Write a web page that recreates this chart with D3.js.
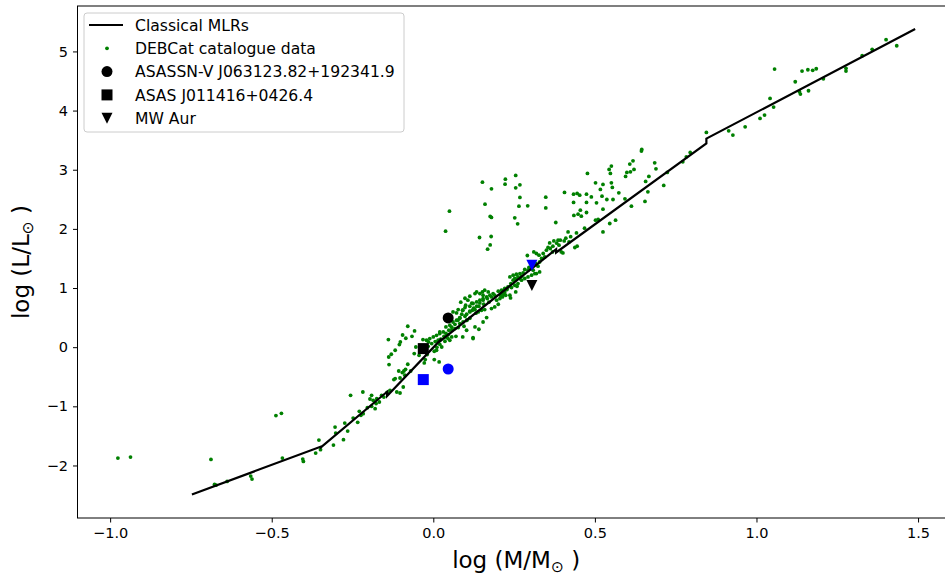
<!DOCTYPE html>
<html>
<head>
<meta charset="utf-8">
<script src="https://cdn.jsdelivr.net/npm/d3@7"></script>
<style>
  body { margin: 0; background: #fff; }
  svg { display: block; font-family: "DejaVu Sans", sans-serif; }
</style>
</head>
<body>
<div id="chart"></div>
<script>
// DEBCat catalogue stars (log M, log L)
const debcatLogM = [
  -0.976, -0.937, -0.688, -0.487, -0.470, -0.677, -0.672, -0.638, -0.565, -0.561,
  -0.467, -0.404, -0.402, -0.364, -0.354, -0.349, -0.309, -0.304, -0.302, -0.278,
  -0.274, -0.265, -0.248, -0.234, -0.229, -0.224, -0.217,
  -0.079, -0.095, -0.066, -0.058, -0.102, -0.105, -0.139, -0.085, -0.118, -0.130,
  -0.138, -0.137, -0.032, -0.015, -0.054, -0.059, -0.044, -0.019, -0.025, -0.028,
  -0.079, -0.091, -0.096, -0.107, -0.086, -0.070, -0.118, -0.122, -0.103, -0.088,
  -0.093, -0.113, -0.103, -0.218, -0.256, -0.191, -0.196, -0.186, -0.175, -0.160,
  -0.153, -0.167, -0.177, -0.191, -0.204, -0.180, -0.134, -0.143,
  0.003, 0.003, 0.018, 0.006, 0.020, 0.036, 0.011,
  0.038, 0.143, 0.179, 0.176, 0.168, 0.360, 0.373, 0.386, 0.389, 0.291,
  0.311, 0.319, 0.327, 0.340, 0.350, 0.355, 0.362, 0.369, 0.335, 0.345,
  0.329, 0.304, 0.317, 0.324, 0.296, 0.283, 0.293, 0.278, 0.268, 0.257,
  0.247, 0.237, 0.252, 0.262, 0.273, 0.319, 0.329, 0.259, 0.255, 0.240,
  0.231, 0.221, 0.211, 0.201, 0.237, 0.239, 0.219, 0.208, 0.185, 0.175,
  0.165, 0.154, 0.144, 0.134, 0.129, 0.152,
  0.098, 0.107, 0.113, 0.119, 0.100, 0.085, 0.125, 0.141, 0.156, 0.172,
  0.180, 0.190, 0.201, 0.113, 0.091, 0.077, 0.072, 0.061, 0.088, 0.132,
  0.154, 0.165, 0.129, 0.141, 0.123, 0.091, 0.070,
  0.076, 0.067, 0.057, 0.048, 0.039, 0.033, 0.045, 0.082, 0.098, 0.104,
  0.113, 0.095, 0.023,
  0.050, 0.152, 0.180, 0.223, 0.222, 0.255, 0.255, 0.160, 0.176, 0.180,
  0.265, 0.252, 0.261, 0.268, 0.268,
  0.292, 0.348, 0.348, 0.406, 0.379, 0.477, 0.645, 0.644, 0.434, 0.445,
  0.453, 0.474, 0.489, 0.434, 0.474, 0.505, 0.522, 0.502, 0.525, 0.517,
  0.551, 0.554, 0.537, 0.556, 0.574, 0.544, 0.551, 0.548, 0.608, 0.618,
  0.610, 0.599, 0.595, 0.621, 0.685, 0.689, 0.667, 0.657, 0.664, 0.593,
  0.613, 0.655, 0.455, 0.448, 0.435, 0.458, 0.474, 0.525, 0.502, 0.510,
  0.546, 0.564, 0.525, 0.443, 0.417, 0.445, 0.438, 0.393, 0.405, 0.420,
  0.396, 0.401,
  0.845, 0.795, 0.783, 0.772, 0.724, 0.713,
  0.914, 0.927, 0.965, 1.011, 1.025, 1.042, 1.053, 1.056, 1.120, 1.133,
  1.136, 1.161, 1.141, 1.159, 1.174, 1.185, 1.207, 1.277, 1.277, 1.327,
  1.358, 1.401, 1.434,
  0.098, 0.113, 0.123, 0.134, 0.144, 0.154, 0.167, 0.180, 0.190, 0.211,
  0.221, 0.228, 0.242, 0.252, 0.262, 0.273, 0.283, 0.293, 0.304, 0.314,
  0.134, 0.144, 0.154, 0.159, 0.170, 0.196, 0.206, 0.214, 0.224, 0.247,
  0.257, 0.268, 0.299, 0.309, 0.082, 0.091, 0.103, 0.113, 0.121, 0.129,
  0.139, 0.149, 0.159, 0.061, 0.072, 0.051, 0.039, 0.020, 0.010, 0.000,
  -0.021, -0.011, 0.020, 0.031, -0.005, 0.015, -0.016, 0.020, 0.036, 0.046,
  0.057, 0.067, 0.077, 0.057, 0.082, 0.092, 0.103, 0.010, 0.026, 0.051,
  0.123, 0.103, 0.370, 0.382, 0.410, 0.425, 0.468
];
const debcatLogL = [
  -1.875, -1.858, -1.897, -1.157, -1.118, -2.320, -2.332, -2.269, -2.179, -2.230,
  -1.875, -1.892, -1.931, -1.790, -1.570, -1.733, -1.655, -1.350, -1.452, -1.563,
  -1.283, -1.418, -1.198, -1.271, -1.085, -1.152, -1.124,
  0.354, 0.206, 0.184, 0.274, 0.088, 0.044, 0.129, 0.151, -0.052, -0.120,
  -0.166, -0.294, 0.129, 0.088, 0.003, -0.108, -0.137, -0.125, -0.210, -0.267,
  -0.289, -0.403, -0.430, -0.403, -0.374, -0.403, -0.531, -0.548, -0.521, -0.475,
  -0.673, -0.758, -0.775, -0.758, -0.814, -0.814, -0.876, -0.898, -0.870, -0.814,
  -0.843, -0.927, -0.954, -1.000, -1.022, -1.039, -0.729, -0.763,
  -0.069, -0.210, -0.250, 0.095, 0.049, 0.100, -0.002,
  1.961, 1.854, 1.871, 1.729, 1.656, 1.763, 1.797, 1.809, 1.724, 1.550,
  1.611, 1.584, 1.555, 1.584, 1.640, 1.685, 1.668, 1.611, 1.499, 1.526,
  1.442, 1.369, 1.415, 1.369, 1.347, 1.313, 1.301, 1.255, 1.245, 1.233,
  1.217, 1.188, 1.161, 1.188, 1.200, 1.245, 1.272, 1.030, 0.934, 1.076,
  1.019, 0.992, 0.963, 0.946, 0.878, 0.832, 0.895, 0.878, 0.907, 0.878,
  0.849, 0.822, 0.794, 0.765, 0.907, 0.934,
  0.827, 0.794, 0.861, 0.743, 0.709, 0.760, 0.658, 0.692, 0.726, 0.760,
  0.653, 0.680, 0.726, 0.607, 0.624, 0.636, 0.579, 0.596, 0.557, 0.574,
  0.426, 0.501, 0.342, 0.303, 0.162, 0.173, 0.184,
  0.455, 0.387, 0.337, 0.286, 0.235, 0.184, 0.151, 0.489, 0.523, 0.455,
  0.489, 0.354, 0.134,
  2.299, 2.790, 2.677, 2.841, 2.756, 2.904, 2.694, 2.418, 2.210, 2.193,
  2.384, 2.186, 2.085, 2.744, 2.531,
  2.389, 2.536, 2.355, 2.616, 2.108, 2.937, 3.343, 3.315, 2.587, 2.599,
  2.570, 2.587, 2.541, 2.447, 2.447, 2.440, 2.553, 2.778, 2.751, 2.667,
  2.778, 2.700, 2.497, 2.497, 2.609, 3.005, 3.061, 2.937, 3.095, 3.151,
  2.964, 2.954, 2.887, 3.005, 3.117, 3.015, 2.887, 2.802, 2.626, 2.508,
  2.384, 2.464, 2.316, 2.249, 2.227, 2.215, 2.277, 2.333, 2.147, 2.159,
  2.091, 2.147, 1.949, 1.932, 1.949, 1.707, 1.685, 1.809, 1.797, 1.780,
  1.611, 1.594,
  3.631, 3.293, 3.218, 3.134, 2.954, 2.734,
  3.658, 3.585, 3.726, 3.868, 3.924, 4.206, 4.059, 4.702, 4.487, 4.318,
  4.279, 4.335, 4.668, 4.690, 4.680, 4.707, 4.538, 4.714, 4.668, 4.927,
  5.035, 5.198, 5.096,
  0.670, 0.692, 0.738, 0.692, 0.748, 0.794, 0.822, 0.849, 0.878, 0.907,
  0.934, 0.975, 1.008, 1.047, 1.076, 1.132, 1.161, 1.188, 1.217, 1.245,
  0.934, 0.907, 0.878, 0.963, 0.934, 0.794, 0.822, 0.849, 0.878, 1.132,
  1.144, 1.161, 1.330, 1.301, 0.501, 0.624, 0.557, 0.596, 0.624, 0.636,
  0.596, 0.624, 0.636, 0.426, 0.455, 0.371, 0.342, 0.257, 0.201, 0.173,
  0.117, 0.146, 0.230, 0.257, 0.061, 0.117, 0.015, 0.117, 0.173, 0.213,
  0.286, 0.315, 0.332, 0.173, 0.399, 0.426, 0.455, -0.052, 0.003, 0.117,
  0.146, 0.286, 1.707, 1.758, 1.843, 1.868, 2.012
];

// classical mass-luminosity relations, vertices of the broken line
const mlrLogM = [-0.747, -0.347, -0.347, -0.143, -0.143, 0.021, 0.021, 0.380, 0.380, 0.845, 0.845, 1.491];
const mlrLogL = [-2.491, -1.679, -1.688, -0.754, -0.827, 0.115, 0.102, 1.656, 1.601, 3.446, 3.526, 5.378];

// the three systems (black: legend marker, blue: second component)
const starNames = ["ASASSN-V J063123.82+192341.9", "ASAS J011416+0426.4", "MW Aur"];
const starShapes = ["circle", "square", "triangle"];
const starLogM = [0.046, -0.031, 0.305];
const starLogL = [0.494, -0.024, 1.042];
const starLogLBlue = [-0.369, -0.548, 1.386];

const xTicks = [-1.0, -0.5, 0.0, 0.5, 1.0, 1.5];
const yTicks = [-2, -1, 0, 1, 2, 3, 4, 5];

const W = 945, H = 578;
const svg = d3.select("#chart").append("svg")
  .attr("width", W).attr("height", H);

const x = d3.scaleLinear().domain([-1.101, 1.614]).range([77.5, 954.9]);
const y = d3.scaleLinear().domain([-2.888, 5.768]).range([518, 6]);

const minus = s => s.replace("-", "\u2212");

// axes frame
svg.append("rect")
  .attr("x", x.range()[0]).attr("y", y.range()[1])
  .attr("width", x.range()[1] - x.range()[0])
  .attr("height", y.range()[0] - y.range()[1])
  .attr("fill", "none").attr("stroke", "#000").attr("stroke-width", 1);

const xAxis = svg.append("g")
  .attr("transform", `translate(0,${y.range()[0]})`)
  .call(d3.axisBottom(x).tickValues(xTicks).tickSize(4.5).tickPadding(5)
    .tickFormat(d => minus(d3.format(".1f")(d))));
const yAxis = svg.append("g")
  .attr("transform", `translate(${x.range()[0]},0)`)
  .call(d3.axisLeft(y).tickValues(yTicks).tickSize(4.5).tickPadding(5)
    .tickFormat(d => minus(String(d))));

[xAxis, yAxis].forEach(a => {
  a.select(".domain").remove();
  a.selectAll("text").attr("font-family", "DejaVu Sans").attr("font-size", 14.5).attr("fill", "#000");
  a.selectAll("line").attr("stroke", "#000");
});

// axis labels
const xl = svg.append("text")
  .attr("x", (x.range()[0] + x.range()[1]) / 2).attr("y", 568)
  .attr("text-anchor", "middle").attr("font-size", 23);
xl.append("tspan").text("log (M/M");
xl.append("tspan").attr("font-size", 15.5).attr("dy", 4).text("\u2299");
xl.append("tspan").attr("dy", -4).text(" )");

const yl = svg.append("text")
  .attr("transform", `translate(29,${(y.range()[0] + y.range()[1]) / 2}) rotate(-90)`)
  .attr("text-anchor", "middle").attr("font-size", 23);
yl.append("tspan").text("log (L/L");
yl.append("tspan").attr("font-size", 15.5).attr("dy", 4).text("\u2299");
yl.append("tspan").attr("dy", -4).text(" )");

const plot = svg.append("g");

// DEBCat dots
plot.append("g").selectAll("circle")
  .data(debcatLogM.map((m, i) => [m, debcatLogL[i]]))
  .join("circle")
  .attr("cx", d => x(d[0])).attr("cy", d => y(d[1]))
  .attr("r", 1.9).attr("fill", "#008000");

// MLR line
plot.append("path")
  .datum(mlrLogM.map((m, i) => [m, mlrLogL[i]]))
  .attr("d", d3.line().x(d => x(d[0])).y(d => y(d[1])))
  .attr("fill", "none").attr("stroke", "#000").attr("stroke-width", 2.2)
  .attr("stroke-linejoin", "miter");

function symbolPath(shape, size) {
  if (shape === "circle") return d3.symbol(d3.symbolCircle, size * size * Math.PI / 4)();
  if (shape === "square") return d3.symbol(d3.symbolSquare, size * size)();
  const h = size / 2;
  return `M${-h},${-h}L${h},${-h}L0,${h}Z`;
}

const mSize = 11;
starNames.forEach((name, i) => {
  plot.append("path")
    .attr("d", symbolPath(starShapes[i], mSize))
    .attr("transform", `translate(${x(starLogM[i])},${y(starLogLBlue[i])})`)
    .attr("fill", "#0000ff");
  plot.append("path")
    .attr("d", symbolPath(starShapes[i], mSize))
    .attr("transform", `translate(${x(starLogM[i])},${y(starLogL[i])})`)
    .attr("fill", "#000");
});

// legend
const lg = svg.append("g").attr("transform", "translate(84,13)");
lg.append("rect")
  .attr("width", 320).attr("height", 119).attr("rx", 3)
  .attr("fill", "#fff").attr("fill-opacity", 0.8)
  .attr("stroke", "#cccccc").attr("stroke-width", 1);
const labels = ["Classical MLRs", "DEBCat catalogue data"].concat(starNames);
labels.forEach((t, i) => {
  const cy = 12 + i * 23.3;
  if (i === 0) {
    lg.append("line").attr("x1", 5).attr("x2", 39).attr("y1", cy).attr("y2", cy)
      .attr("stroke", "#000").attr("stroke-width", 2.2);
  } else if (i === 1) {
    lg.append("circle").attr("cx", 23).attr("cy", cy).attr("r", 1.9).attr("fill", "#008000");
  } else {
    lg.append("path").attr("d", symbolPath(starShapes[i - 2], mSize))
      .attr("transform", `translate(23,${cy})`).attr("fill", "#000");
  }
  lg.append("text").attr("x", 51).attr("y", cy).attr("dy", "0.36em")
    .attr("font-size", 15.6).text(t);
});
</script>
</body>
</html>
